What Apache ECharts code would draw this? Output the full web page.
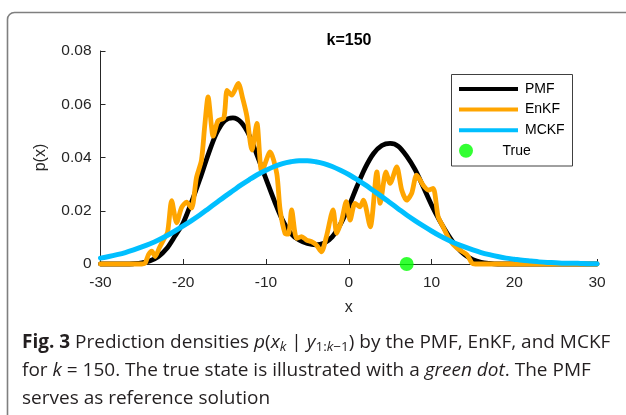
<!DOCTYPE html>
<html>
<head>
<meta charset="utf-8">
<script src="https://cdn.jsdelivr.net/npm/echarts@6/dist/echarts.min.js"></script>
<style>
  html, body { margin: 0; padding: 0; background: #ffffff; }
  #chart { width: 626px; height: 415px; }
</style>
</head>
<body>
<div id="chart"></div>
<script>
// Grid of state values on which the PMF and MCKF densities are given
const xGrid = [
  -30, -29, -28, -27, -26, -25, -24, -23, -22, -21,
  -20, -19, -18, -17, -16, -15, -14, -13, -12, -11,
  -10, -9, -8, -7, -6, -5, -4, -3, -2, -1,
  0, 1, 2, 3, 4, 5, 6, 7, 8, 9,
  10, 11, 12, 13, 14, 15, 16, 17, 18, 19,
  20, 21, 22, 23, 24, 25, 26, 27, 28, 29, 30
];

// Point-mass filter density (reference solution)
const pmfDensity = [
  0, 0, 0, 0, 0.0001, 0.0004, 0.0012, 0.0028, 0.0058, 0.0105,
  0.0155, 0.0232, 0.0318, 0.041, 0.049, 0.0538, 0.0549, 0.0532, 0.0482, 0.0402,
  0.032, 0.0238, 0.0165, 0.0115, 0.009, 0.0077, 0.0072, 0.0078, 0.0102, 0.015,
  0.0215, 0.0292, 0.0362, 0.0415, 0.0445, 0.0453, 0.0442, 0.0405, 0.0355, 0.029,
  0.0222, 0.0162, 0.011, 0.0066, 0.0035, 0.0016, 0.0006, 0.0002, 0, 0,
  0, 0, 0, 0, 0, 0, 0, 0, 0, 0, 0
];

// MCKF Gaussian density
const mckfDensity = [
  0.0022, 0.0028, 0.0035, 0.0043, 0.0053, 0.0064, 0.0076, 0.009, 0.0106, 0.0124,
  0.0143, 0.0163, 0.0184, 0.0207, 0.023, 0.0253, 0.0275, 0.0297, 0.0317, 0.0336,
  0.0352, 0.0366, 0.0377, 0.0384, 0.0388, 0.0388, 0.0384, 0.0377, 0.0366, 0.0352,
  0.0336, 0.0317, 0.0297, 0.0275, 0.0253, 0.023, 0.0207, 0.0184, 0.0163, 0.0143,
  0.0124, 0.0106, 0.009, 0.0076, 0.0064, 0.0053, 0.0043, 0.0035, 0.0028, 0.0022,
  0.0018, 0.0014, 0.0011, 0.0008, 0.0006, 0.0005, 0.0003, 0.0003, 0.0002, 0.0001, 0.0001
];

// Ensemble Kalman filter density estimate (irregular sample positions)
const enkfX = [
  -30, -25, -24.6, -24.2, -23.8, -23.4, -22.9, -22.4, -21.9, -21.4,
  -20.8, -20.2, -19.6, -19.0, -18.4, -17.8, -17.4, -17.0, -16.6, -16.4,
  -15.8, -15.1, -14.7, -14.15, -13.35, -12.8, -12.3, -11.7, -11.1, -10.5,
  -9.5, -8.7, -8.3, -7.7, -7.3, -6.9, -6.3, -5.7, -5.1, -4.5,
  -3.9, -3.3, -2.7, -1.9, -1.45, -0.85, -0.3, 0.16, 0.76, 1.37,
  1.77, 2.6, 3.4, 3.8, 4.5, 5.0, 5.8, 6.4, 7.0, 7.6,
  8.2, 9.0, 9.6, 10.2, 10.8, 11.4, 12.2, 13.1, 14.3, 14.9,
  15.3, 30
];
const enkfDensity = [
  0, 0, 0.0003, 0.0035, 0.0048, 0.0028, 0.006, 0.009, 0.0118, 0.0238,
  0.0155, 0.0212, 0.0232, 0.021, 0.0325, 0.039, 0.052, 0.0628, 0.052, 0.048,
  0.0538, 0.0548, 0.0652, 0.0634, 0.0678, 0.062, 0.0553, 0.0428, 0.0528, 0.0346,
  0.0421, 0.034, 0.0205, 0.0115, 0.0112, 0.0203, 0.0096, 0.0103, 0.009, 0.0084,
  0.0071, 0.0046, 0.0103, 0.0203, 0.0115, 0.0165, 0.0234, 0.0165, 0.0228, 0.0215,
  0.024, 0.014, 0.0346, 0.0228, 0.0346, 0.0303, 0.0365, 0.0278, 0.024, 0.0265,
  0.0334, 0.0296, 0.0278, 0.0284, 0.0178, 0.014, 0.009, 0.0059, 0.0034, 0.0003,
  0, 0
];

// True state at k = 150
const trueState = [7, 0];

const seriesNames = ['PMF', 'EnKF', 'MCKF', 'True'];
const seriesColors = ['#000000', '#ffa500', '#00bfff', '#00ff00'];

const pairs = (xs, ys) => xs.map((x, i) => [x, ys[i]]);

const AXIS_FONT = '"Liberation Sans", Arial, Helvetica, sans-serif';
const CAP_FONT = '"Open Sans", "Noto Sans", sans-serif';
const CAP_COLOR = '#231f20';
const CAP_SIZE = 19;
const SUB_SIZE = 13.5;

function capStyle(size, extra) {
  return Object.assign({
    fontFamily: CAP_FONT, fontSize: size, fontWeight: 'normal',
    fontStyle: 'normal', fill: CAP_COLOR, lineHeight: 27
  }, extra || {});
}
const capRich = {
  b: capStyle(CAP_SIZE, { fontWeight: 'bold' }),
  i: capStyle(CAP_SIZE, { fontStyle: 'italic' }),
  s: capStyle(SUB_SIZE, { padding: [9, 0, 0, 0], lineHeight: 17 }),
  si: capStyle(SUB_SIZE, { fontStyle: 'italic', padding: [9, 0, 0, 0], lineHeight: 17 })
};
const captionLines = [
  '{b|Fig. 3} Prediction densities {i|p}({i|x}{si|k} | {i|y}{s|1:}{si|k}{s|\u22121}) by the PMF, EnKF, and MCKF',
  'for {i|k} = 150. The true state is illustrated with a {i|green dot}. The PMF',
  'serves as reference solution'
];
const captionY = [343, 371, 399];

const chart = echarts.init(document.getElementById('chart'), null, { renderer: 'canvas' });

chart.setOption({
  animation: false,
  backgroundColor: '#ffffff',
  textStyle: { fontFamily: AXIS_FONT },
  title: {
    text: 'k=150',
    left: 349,
    top: 33,
    padding: 0,
    textAlign: 'center',
    textStyle: { fontFamily: AXIS_FONT, fontSize: 16, fontWeight: 'bold', color: '#000000' }
  },
  grid: { left: 100.5, right: 29, top: 51, bottom: 151, containLabel: false },
  xAxis: {
    type: 'value',
    min: -30, max: 30, interval: 10,
    name: 'x',
    nameLocation: 'middle',
    nameGap: 36,
    nameTextStyle: { fontFamily: AXIS_FONT, fontSize: 16, color: '#262626' },
    axisLine: { show: true, onZero: false, lineStyle: { color: '#262626', width: 1 } },
    axisTick: { show: true, inside: true, length: 5, lineStyle: { color: '#262626' } },
    axisLabel: { fontFamily: AXIS_FONT, fontSize: 15.5, color: '#262626', margin: 11 },
    splitLine: { show: false }
  },
  yAxis: {
    type: 'value',
    min: 0, max: 0.08, interval: 0.02,
    name: 'p(x)',
    nameLocation: 'middle',
    nameGap: 52,
    nameTextStyle: { fontFamily: AXIS_FONT, fontSize: 16, color: '#262626' },
    axisLine: { show: true, onZero: false, lineStyle: { color: '#262626', width: 1 } },
    axisTick: { show: true, inside: true, length: 5, lineStyle: { color: '#262626' } },
    axisLabel: {
      fontFamily: AXIS_FONT, fontSize: 15.5, color: '#262626', margin: 9,
      formatter: v => (v === 0 ? '0' : v.toFixed(2))
    },
    splitLine: { show: false }
  },
  legend: [
    {
      data: ['PMF', 'EnKF', 'MCKF'],
      orient: 'vertical',
      left: 459, top: 81,
      padding: 0,
      itemWidth: 59, itemHeight: 4, itemGap: 4.6,
      icon: 'rect',
      selectedMode: false,
      textStyle: { fontFamily: AXIS_FONT, fontSize: 14, color: '#000000', lineHeight: 16, padding: [0, 0, 0, 2] }
    },
    {
      data: ['True'],
      orient: 'vertical',
      left: 459, top: 142.7,
      padding: 0,
      itemWidth: 59, itemHeight: 14,
      icon: 'circle',
      selectedMode: false,
      textStyle: { fontFamily: AXIS_FONT, fontSize: 14, color: '#000000', lineHeight: 16, padding: [0, 0, 0, 2] }
    }
  ],
  graphic: [
    {
      type: 'rect', silent: true, z: -1,
      shape: { x: 7.5, y: 12.5, width: 700, height: 500, r: [7, 0, 0, 0] },
      style: { fill: 'none', stroke: '#7f7f7f', lineWidth: 1.6 }
    },
    {
      type: 'rect', silent: true, z: 3,
      shape: { x: 451.5, y: 74.5, width: 121, height: 91.5 },
      style: { fill: '#ffffff', stroke: '#404040', lineWidth: 1 }
    }
  ].concat(captionLines.map((t, i) => ({
    type: 'text', silent: true, z: 5,
    x: 22, y: captionY[i],
    style: Object.assign(capStyle(CAP_SIZE), {
      text: t, rich: capRich,
      align: 'left', verticalAlign: 'middle',
      textAlign: 'left', textVerticalAlign: 'middle'
    })
  }))),
  series: [
    {
      name: seriesNames[0], type: 'line', data: pairs(xGrid, pmfDensity),
      showSymbol: false, symbol: 'none', smooth: 0.3, clip: false, z: 2,
      color: seriesColors[0],
      lineStyle: { color: seriesColors[0], width: 4.8, cap: 'round', join: 'round' }
    },
    {
      name: seriesNames[1], type: 'line', data: pairs(enkfX, enkfDensity),
      showSymbol: false, symbol: 'none', smooth: 0.25, clip: false, z: 3,
      color: seriesColors[1],
      lineStyle: { color: seriesColors[1], width: 4.8, cap: 'round', join: 'round' }
    },
    {
      name: seriesNames[2], type: 'line', data: pairs(xGrid, mckfDensity),
      showSymbol: false, symbol: 'none', smooth: 0.3, clip: false, z: 4,
      color: seriesColors[2],
      lineStyle: { color: seriesColors[2], width: 5, cap: 'round', join: 'round' }
    },
    {
      name: seriesNames[3], type: 'scatter', data: [trueState],
      symbol: 'circle', symbolSize: 14, clip: false, z: 6,
      color: seriesColors[3],
      itemStyle: { color: seriesColors[3] }
    }
  ]
});
</script>
</body>
</html>
